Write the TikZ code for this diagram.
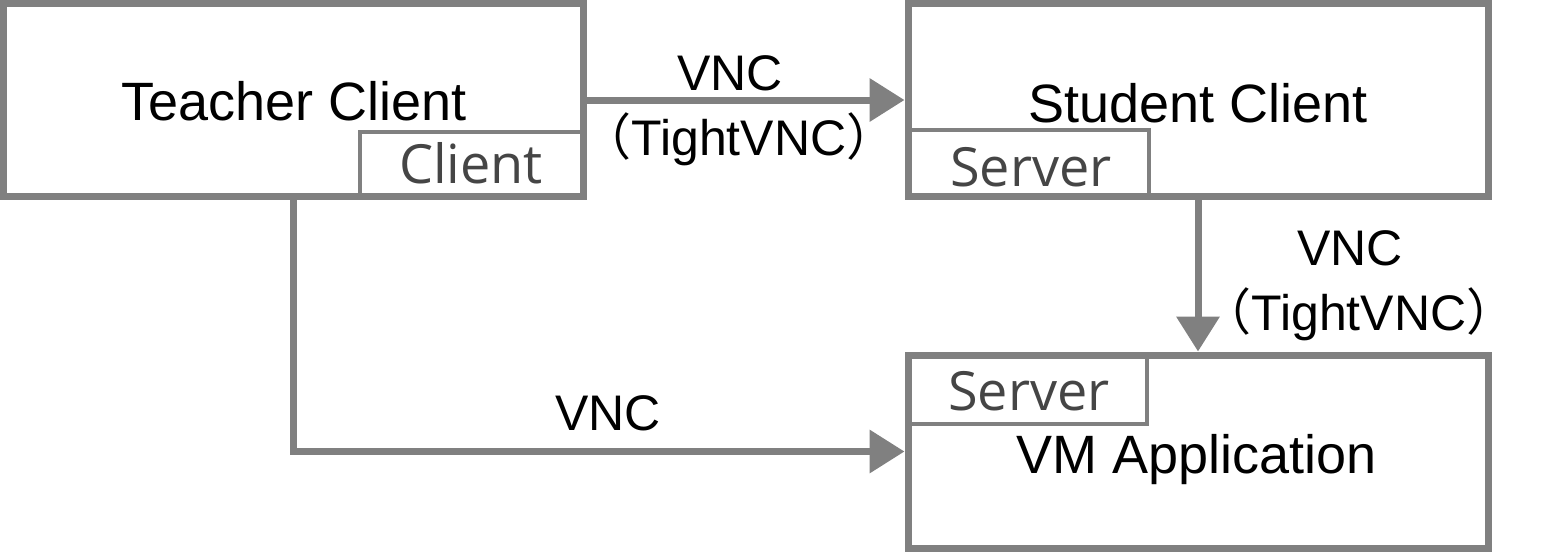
\documentclass[tikz,border=0pt]{standalone}
\usepackage{fontspec}
\setmainfont{Liberation Sans}
\newfontfamily\graytext{Open Sans}
\newfontfamily\cjk{Noto Sans CJK SC}
\usetikzlibrary{positioning,arrows.meta}

\begin{document}
\begin{tikzpicture}[
			x=0.5pt, y=-0.5pt
			,box/.style={draw=linegray, line width=3.5pt, minimum width=290pt, minimum height=96.5pt, inner sep=0pt}
			,sub/.style={draw=linegray, line width=2pt, inner sep=0pt}
			,title/.style={anchor=base, font=\fontsize{27pt}{30pt}\selectfont, inner sep=0pt}
			,role/.style={anchor=base, font=\graytext\fontsize{27pt}{30pt}\selectfont, text=rolegray, inner sep=0pt}
			,tag/.style={anchor=base, font=\fontsize{25pt}{28pt}\selectfont, inner sep=0pt}
			,link/.style={draw=linegray, line width=3.5pt, -{Triangle[length=17.5pt, width=21pt]}}
		]
			\definecolor{linegray}{HTML}{808080}
			\definecolor{rolegray}{HTML}{454545}
			\useasboundingbox (0,0) rectangle (1557,554);
			% boxes
			\node [box] (T) at (293,100) {};
			\node [box] (S) at (1198,100) {};
			\node [box] (V) at (1198,451.5) {};
			\node [sub, minimum width=112.5pt, minimum height=33.25pt, anchor=south east] (TC) at (T.south east) {};
			\node [sub, minimum width=121pt, minimum height=34.25pt, anchor=south west] (SS) at (S.south west) {};
			\node [sub, minimum width=120pt, minimum height=35pt, anchor=north west] (VS) at (V.north west) {};
			% texts
			\node [title] (Tt) at (294,120) {Teacher Client};
			\node [title] (St) at (1198,122) {Student Client};
			\node [title] (Vt) at (1197,473) {VM Application};
			\node [role] (TCt) at (471,183) {Client};
			\node [role] (SSt) at (1031,186) {Server};
			\node [role] (VSt) at (1029,410) {Server};
			% connectors
			\draw [link] (T.east) -- (S.west);
			\draw [link] (S.south) -- (V.north);
			\draw [link] (T.south) |- (V.west);
			\node [tag] (l1) at (730,90) {VNC};
			\node [tag] (l1b) at (739,155) {{\cjk （}TightVNC{\cjk ）}};
			\node [tag] (l2) at (1350,265) {VNC};
			\node [tag] (l2b) at (1359,330) {{\cjk （}TightVNC{\cjk ）}};
			\node [tag] (l3) at (608,430) {VNC};
		\end{tikzpicture}
\end{document}
